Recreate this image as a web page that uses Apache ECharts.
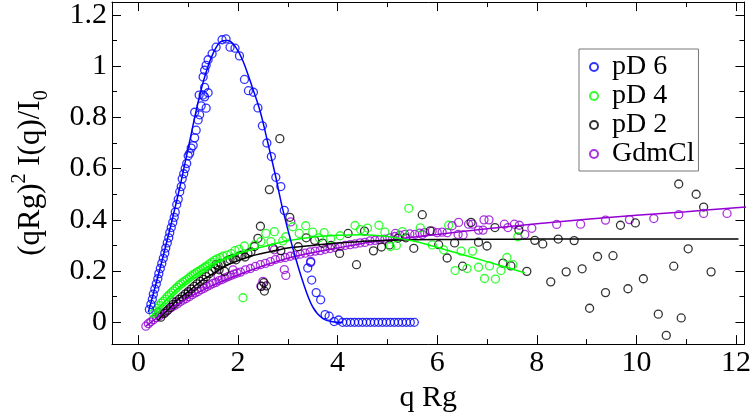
<!DOCTYPE html>
<html><head><meta charset="utf-8">
<script src="https://cdn.jsdelivr.net/npm/echarts@6/dist/echarts.min.js"></script>
<style>html,body{margin:0;padding:0;background:#fff}#c{width:754px;height:418px}</style>
</head><body><div id="c"></div>
<script>
// ---- tick values ----
var xMajorTicks = [0, 2, 4, 6, 8, 10, 12];
var xMinorTicks = [1, 3, 5, 7, 9, 11];
var yMajorTicks = [0, 0.2, 0.4, 0.6, 0.8, 1, 1.2];
var yMinorTicks = [0.1, 0.3, 0.5, 0.7, 0.9, 1.1];
var seriesNames = ['pD 6', 'pD 4', 'pD 2', 'GdmCl'];

// ---- pD 6 (blue) ----
var pD6Points = [
 [0.22,0.05],[0.25,0.07],[0.28,0.09],[0.30,0.11],[0.33,0.13],[0.36,0.15],[0.39,0.17],[0.41,0.19],[0.44,0.21],[0.47,0.23],
 [0.50,0.25],[0.53,0.27],[0.55,0.29],[0.58,0.31],[0.61,0.33],[0.63,0.35],[0.66,0.37],[0.69,0.39],[0.72,0.41],[0.74,0.43],
 [0.77,0.46],[0.80,0.48],[0.83,0.51],[0.86,0.53],[0.88,0.56],[0.91,0.58],[0.94,0.60],[0.97,0.62],[1.00,0.65],[1.03,0.66],
 [1.06,0.68],[1.10,0.69],[1.13,0.72],[1.16,0.75],[1.20,0.79],[1.23,0.81],[1.13,0.82],[1.26,0.845],[1.36,0.836],[1.33,0.88],
 [1.30,0.887],[1.40,0.896],[1.22,0.887],[1.33,0.917],[1.30,0.958],[1.33,0.984],[1.36,1.003],[1.40,1.025],[1.48,1.048],[1.56,1.074],
 [1.68,1.103],[1.76,1.106],[1.84,1.074],[1.94,1.07],[2.03,1.04],[2.13,0.948],[2.21,0.904],[2.31,0.898],[2.40,0.837],[2.49,0.767],
 [2.58,0.70],[2.67,0.647],[2.76,0.566],[2.86,0.53],[2.93,0.437],[3.40,0.212],[3.46,0.234],[3.48,0.165],[3.57,0.116],[3.66,0.088],
 [3.75,0.03],[3.83,0.024],[3.93,0.003],[4.02,0.009],
 [4.10,0],[4.18,0],[4.26,0],[4.34,0],[4.42,0],[4.50,0],[4.58,0],[4.66,0],[4.74,0],[4.82,0],
 [4.90,0],[4.98,0],[5.06,0],[5.14,0],[5.22,0],[5.30,0],[5.38,0],[5.46,0],[5.54,0]
];
var pD6Fit = [
 [0.2,0.04],[0.5,0.26],[0.8,0.5],[1.0,0.68],[1.2,0.86],[1.35,0.97],[1.5,1.05],[1.65,1.095],[1.8,1.10],[1.95,1.075],
 [2.1,1.02],[2.3,0.91],[2.45,0.82],[2.6,0.70],[2.75,0.575],[2.9,0.44],[3.1,0.29],[3.3,0.16],[3.5,0.06],[3.7,0.015],[3.9,0.002],[4.1,0]
];

// ---- pD 4 (green) ----
var pD4Points = [
 [0.30,0.035],[0.34,0.045],[0.38,0.055],[0.42,0.065],[0.46,0.075],[0.50,0.082],[0.54,0.09],[0.58,0.10],[0.62,0.107],[0.66,0.115],
 [0.70,0.122],[0.74,0.13],[0.78,0.137],[0.82,0.145],[0.86,0.15],[0.90,0.157],[0.94,0.162],[0.98,0.168],[1.02,0.174],[1.06,0.18],
 [1.10,0.186],[1.14,0.19],[1.18,0.196],[1.22,0.20],[1.26,0.206],[1.30,0.21],[1.34,0.216],[1.38,0.22],[1.43,0.228],[1.48,0.235],
 [1.53,0.242],[1.58,0.248],[1.64,0.252],[1.70,0.258],[1.78,0.262],[1.86,0.268],[1.94,0.28],[2.02,0.285],[2.13,0.298],
 [2.10,0.096],[2.33,0.302],[2.46,0.315],[2.56,0.347],[2.66,0.315],[2.73,0.354],[2.90,0.318],[2.96,0.334],[3.10,0.373],[3.23,0.347],
 [3.36,0.377],[3.50,0.352],[3.63,0.33],[3.73,0.35],[3.86,0.326],[4.05,0.338],[4.35,0.378],[4.46,0.362],[4.60,0.368],[4.83,0.379],
 [4.95,0.352],[5.06,0.296],[5.18,0.30],[5.30,0.354],[5.43,0.445],[5.66,0.369],[5.90,0.302],[6.13,0.283],[6.23,0.379],[6.36,0.202],
 [6.48,0.278],[6.60,0.21],[6.71,0.278],[6.83,0.215],[6.95,0.171],[7.05,0.22],[7.17,0.169],[7.28,0.202],[7.40,0.253],[7.52,0.225],[7.62,0.334]
];
var pD4Fit = [
 [0.25,0.02],[0.5,0.075],[0.75,0.125],[1.0,0.165],[1.25,0.20],[1.5,0.228],[1.75,0.25],[2.0,0.268],[2.5,0.295],[3.0,0.318],
 [3.5,0.333],[4.0,0.34],[4.5,0.342],[5.0,0.335],[5.5,0.318],[5.83,0.302],[6.5,0.265],[7.0,0.237],[7.5,0.208],[7.76,0.193]
];

// ---- pD 2 (black) ----
var pD2Points = [
 [0.45,0.02],[0.52,0.035],[0.58,0.045],[0.64,0.058],[0.70,0.07],[0.76,0.08],[0.82,0.09],[0.88,0.10],[0.94,0.11],[1.00,0.12],
 [1.06,0.13],[1.12,0.14],[1.18,0.15],[1.24,0.16],[1.30,0.168],[1.36,0.178],[1.42,0.19],[1.48,0.20],[1.54,0.21],[1.60,0.222],
 [1.66,0.23],[1.73,0.199],[1.78,0.24],[1.84,0.245],[1.90,0.25],[1.96,0.244],[2.02,0.258],[2.08,0.262],[2.14,0.255],[2.20,0.268],
 [2.26,0.275],[1.56,0.225],[1.62,0.205],
 [2.33,0.296],[2.40,0.328],[2.45,0.375],[2.47,0.14],[2.52,0.155],[2.57,0.142],[2.53,0.122],[2.63,0.518],[2.84,0.717],[2.70,0.29],
 [2.86,0.280],[3.04,0.41],[3.21,0.295],[3.37,0.33],[3.54,0.32],[3.70,0.309],[3.87,0.30],[4.04,0.269],[4.21,0.347],[4.38,0.225],
 [4.54,0.356],[4.72,0.279],[4.88,0.294],[5.04,0.302],[5.21,0.328],[5.37,0.33],[5.53,0.289],[5.70,0.42],[5.86,0.357],[6.03,0.303],
 [6.20,0.251],[6.35,0.31],[6.51,0.219],[6.68,0.39],[6.83,0.313],[7.00,0.298],[7.16,0.37],[7.32,0.231],[7.48,0.22],[7.64,0.36],
 [7.80,0.199],[7.96,0.32],[8.12,0.306],[8.28,0.158],[8.43,0.325],[8.59,0.197],[8.75,0.319],[8.91,0.209],[9.06,0.055],[9.22,0.257],
 [9.38,0.116],[9.53,0.26],[9.68,0.379],[9.83,0.131],[9.98,0.388],[10.14,0.17],[10.85,0.54],[10.44,0.032],[10.60,-0.051],[10.75,0.219],
 [10.90,0.017],[11.04,0.287],[11.20,0.50],[11.35,0.45],[11.50,0.197]
];
var pD2Fit = [
 [0.4,0.01],[0.6,0.05],[0.8,0.09],[1.0,0.12],[1.25,0.16],[1.5,0.19],[1.75,0.22],[2.0,0.24],[2.25,0.258],[2.5,0.27],
 [2.75,0.28],[3.0,0.29],[3.5,0.30],[4.0,0.31],[4.5,0.316],[5.0,0.32],[6.0,0.323],[7.0,0.324],[8.0,0.325],[10.0,0.325],[12.05,0.325]
];

// ---- GdmCl (violet) ----
var gdmPoints = [
 [0.15,-0.015],[0.20,-0.005],[0.25,0.002],[0.30,0.01],[0.36,0.018],[0.42,0.025],[0.48,0.033],[0.54,0.04],[0.60,0.05],[0.66,0.058],
 [0.72,0.065],[0.78,0.072],[0.84,0.08],[0.90,0.087],[0.96,0.093],[1.02,0.10],[1.08,0.108],[1.14,0.115],[1.20,0.12],[1.26,0.128],
 [1.32,0.133],[1.38,0.14],[1.44,0.146],[1.50,0.152],[1.56,0.156],[1.62,0.163],[1.68,0.167],[1.74,0.173],[1.80,0.178],[1.86,0.183],
 [1.92,0.188],[1.98,0.192],[0.40,0.04],[0.70,0.08],[1.00,0.115],[1.30,0.15],[1.60,0.18],[1.90,0.205],
 [2.05,0.196],[2.15,0.205],[2.25,0.21],[2.35,0.218],[2.45,0.225],[2.55,0.23],[2.65,0.237],[2.75,0.245],[2.85,0.25],[2.95,0.253],
 [3.05,0.258],[3.15,0.262],[3.25,0.266],[3.35,0.27],[3.45,0.275],[3.55,0.278],[3.65,0.28],[3.75,0.285],[3.85,0.288],[3.95,0.292],
 [4.05,0.296],[4.15,0.30],[4.25,0.303],[4.35,0.306],[4.45,0.31],[4.55,0.312],[4.65,0.318],[4.75,0.32],[4.85,0.322],[4.95,0.325],
 [5.05,0.33],[5.15,0.335],[5.25,0.34],[5.35,0.343],[5.45,0.345],[5.55,0.343],[5.65,0.348],[5.75,0.35],
 [2.46,0.142],[2.50,0.16],[2.73,0.283],[2.93,0.206],[2.96,0.183],[3.06,0.392],[3.46,0.238],[5.16,0.347],[5.70,0.343],
 [5.90,0.356],[6.00,0.35],[6.10,0.352],[6.20,0.35],[6.30,0.377],[6.43,0.39],[6.42,0.343],[6.52,0.341],[6.63,0.383],[6.71,0.383],
 [6.83,0.36],[6.92,0.36],[6.94,0.40],[7.04,0.40],[7.35,0.383],[7.42,0.37],[7.55,0.383],[7.65,0.379],[7.76,0.343],[7.90,0.367],
 [8.40,0.382],[8.88,0.383],[9.38,0.399],[9.86,0.401],[10.35,0.405],[10.85,0.42],[11.35,0.425],[11.82,0.425]
];
var gdmFit = [
 [0.15,-0.015],[0.5,0.035],[1.0,0.095],[1.5,0.145],[2.0,0.185],[2.5,0.22],[3.0,0.25],[3.5,0.272],[4.0,0.29],[4.5,0.308],
 [5.0,0.32],[5.5,0.332],[6.0,0.343],[7.0,0.365],[8.0,0.385],[9.0,0.402],[10.0,0.418],[11.0,0.432],[12.2,0.45]
];

var colors = {'pD 6':'#0000ff','pD 4':'#00ff00','pD 2':'#000000','GdmCl':'#9400d3'};
var FONT = 'Liberation Serif';
var X_MIN = -0.53, X_MAX = 12.17, Y_MIN = -0.085, Y_MAX = 1.25;

function xAx(pos, ticks, len, line, labels) {
  return {type:'value', min:X_MIN, max:X_MAX, position:pos, gridIndex:0,
    axisLine:{show:line, onZero:false, lineStyle:{color:'#000', width:1}},
    axisTick:{show:true, inside:true, length:len, customValues:ticks, lineStyle:{color:'#000', width:1}},
    axisLabel:{show:labels, customValues:ticks, fontFamily:FONT, fontSize:30, color:'#000', margin:4},
    splitLine:{show:false}};
}
function yAx(pos, ticks, len, line, labels) {
  return {type:'value', min:Y_MIN, max:Y_MAX, position:pos, gridIndex:0,
    axisLine:{show:line, onZero:false, lineStyle:{color:'#000', width:1}},
    axisTick:{show:true, inside:true, length:len, customValues:ticks, lineStyle:{color:'#000', width:1}},
    axisLabel:{show:labels, customValues:ticks, fontFamily:FONT, fontSize:30, color:'#000', margin:5},
    splitLine:{show:false}};
}
var xAxes = [xAx('bottom', xMajorTicks, 9, true, true), xAx('bottom', xMinorTicks, 5, false, false),
             xAx('top', xMajorTicks, 9, true, false), xAx('top', xMinorTicks, 5, false, false)];
xAxes[0].name = 'q Rg'; xAxes[0].nameLocation = 'middle'; xAxes[0].nameGap = 38;
xAxes[0].nameTextStyle = {fontFamily:FONT, fontSize:30, color:'#000'};
var yAxes = [yAx('left', yMajorTicks, 9, true, true), yAx('left', yMinorTicks, 5, false, false),
             yAx('right', yMajorTicks, 9, true, false), yAx('right', yMinorTicks, 5, false, false)];
yAxes[0].name = '{t|(qRg)}{s|2}{t| I(q)/I}{b|0}';
yAxes[0].nameLocation = 'middle'; yAxes[0].nameRotate = 90; yAxes[0].nameGap = 60;
yAxes[0].nameTextStyle = {rich:{
  t:{fontFamily:FONT, fontSize:31, color:'#000', lineHeight:42},
  s:{fontFamily:FONT, fontSize:20, color:'#000', lineHeight:18, verticalAlign:'top'},
  b:{fontFamily:FONT, fontSize:20, color:'#000', lineHeight:20, verticalAlign:'bottom'}
}};

function scatter(name, data) {
  return {name:name, type:'scatter', data:data, symbol:'circle', symbolSize:8,
    itemStyle:{color:'rgba(0,0,0,0)', borderColor:colors[name], borderWidth:1.3}, z:2};
}
function fit(name, data) {
  return {name:name+' fit', type:'line', data:data, showSymbol:false, smooth:0.35,
    lineStyle:{color:colors[name], width:1.5}, z:3, silent:true};
}

var chart = echarts.init(document.getElementById('c'), null, {renderer:'canvas'});
chart.setOption({
  animation:false,
  backgroundColor:'#fff',
  grid:{left:112, right:7, top:1, bottom:71, containLabel:false},
  xAxis:xAxes, yAxis:yAxes,
  legend:{data:seriesNames, orient:'vertical', left:579, top:49, padding:[4,4,3,10], itemGap:1,
    itemWidth:8, itemHeight:8, borderColor:'#777', borderWidth:1, backgroundColor:'#fff',
    textStyle:{fontFamily:FONT, fontSize:28, color:'#000', lineHeight:28, padding:[0,0,0,9]}},
  series:[
    scatter('GdmCl', gdmPoints), scatter('pD 2', pD2Points), scatter('pD 4', pD4Points), scatter('pD 6', pD6Points),
    fit('GdmCl', gdmFit), fit('pD 2', pD2Fit), fit('pD 4', pD4Fit), fit('pD 6', pD6Fit)
  ]
});
</script></body></html>
